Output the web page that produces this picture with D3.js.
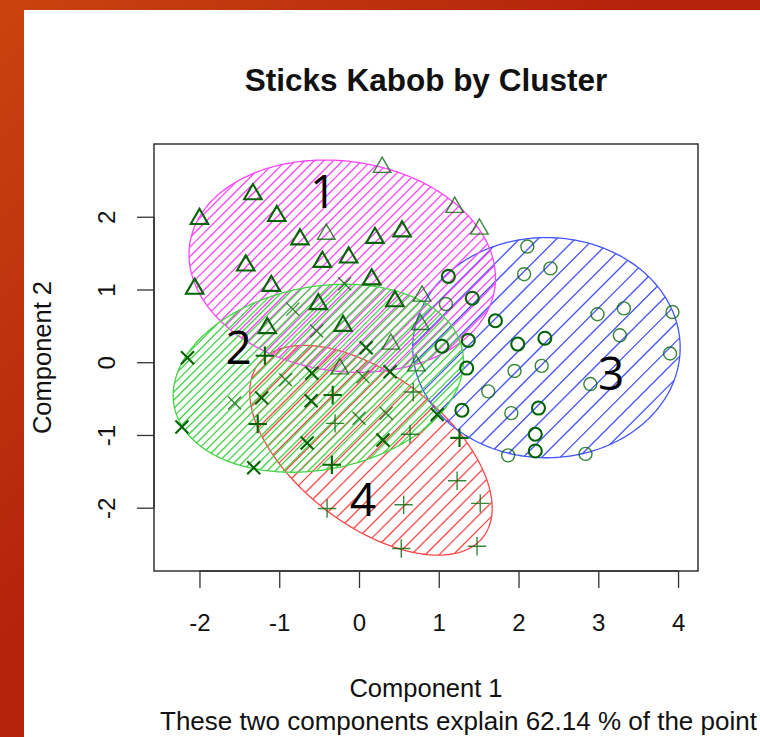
<!DOCTYPE html>
<html><head><meta charset="utf-8">
<script src="https://cdn.jsdelivr.net/npm/d3@7/dist/d3.min.js"></script>
<style>html,body{margin:0;padding:0;background:#fff;} svg{display:block;}</style>
</head><body>
<svg id="chart" width="760" height="737"></svg>
<script>
// ---------------- data ----------------
const title = "Sticks Kabob by Cluster";
const xLabel = "Component 1";
const yLabel = "Component 2";
const subTitle = "These two components explain 62.14 % of the point";
const xTicks = [-2, -1, 0, 1, 2, 3, 4];
const yTicks = [-2, -1, 0, 1, 2];
const clusterNames = ["1", "2", "3", "4"];
const xDomain = [-2.57, 4.25];
const yDomain = [-2.87, 3.0];

// points: [component 1, component 2, number of coinciding observations]
const cluster1 = [ // triangles
  [0.29, 2.68, 1], [-1.33, 2.31, 2], [-2.00, 1.97, 2], [-1.03, 2.01, 2], [-0.74, 1.69, 2],
  [-0.41, 1.76, 1], [-0.46, 1.38, 2], [-0.13, 1.44, 2], [0.20, 1.71, 2], [0.54, 1.80, 2],
  [1.20, 2.13, 1], [1.51, 1.83, 1], [-1.42, 1.33, 2], [-2.06, 1.01, 2], [-1.10, 1.05, 2],
  [0.16, 1.14, 2], [-0.51, 0.80, 2], [-0.20, 0.50, 2], [-1.15, 0.47, 2], [0.45, 0.84, 2],
  [0.79, 0.91, 1], [0.40, 0.25, 1], [0.77, 0.52, 1], [-0.24, -0.09, 1], [0.72, -0.05, 1]
];
const cluster2 = [ // crosses (x)
  [-0.18, 1.08, 1], [-0.83, 0.73, 1], [-0.53, 0.43, 1], [0.09, 0.20, 2], [-2.15, 0.06, 2],
  [-0.59, -0.15, 2], [-0.92, -0.24, 1], [0.39, -0.13, 2], [0.05, -0.20, 1], [-1.22, -0.49, 2],
  [-1.56, -0.56, 1], [-0.60, -0.53, 2], [0.00, -0.77, 1], [0.34, -0.70, 1], [-2.22, -0.89, 2],
  [-0.65, -1.11, 2], [0.30, -1.07, 2], [-1.32, -1.45, 2], [0.98, -0.72, 2]
];
const cluster3 = [ // circles
  [2.11, 1.59, 1], [2.07, 1.21, 1], [2.40, 1.29, 1], [1.12, 1.18, 2], [1.09, 0.80, 1],
  [1.42, 0.88, 2], [1.71, 0.57, 2], [2.99, 0.66, 1], [3.32, 0.74, 1], [3.93, 0.69, 1],
  [3.27, 0.37, 1], [3.90, 0.12, 1], [1.99, 0.25, 2], [2.33, 0.33, 2], [1.04, 0.22, 2],
  [1.37, 0.30, 2], [1.35, -0.08, 2], [1.95, -0.12, 1], [2.29, -0.05, 1], [2.90, -0.30, 1],
  [1.62, -0.40, 1], [1.29, -0.66, 2], [1.91, -0.70, 1], [2.25, -0.63, 2], [2.21, -0.99, 2],
  [2.21, -1.22, 2], [1.87, -1.28, 1], [2.84, -1.26, 1]
];
const cluster4 = [ // plus
  [-1.18, 0.09, 2], [-0.33, -0.45, 2], [-1.27, -0.85, 2], [-0.30, -0.84, 1], [0.64, -0.99, 1],
  [-0.34, -1.41, 2], [0.68, -0.41, 1], [-0.40, -2.01, 1], [0.56, -1.96, 1], [0.53, -2.56, 1],
  [1.26, -1.04, 2], [1.23, -1.63, 1], [1.52, -1.94, 1], [1.48, -2.53, 1]
];
// spanning ellipses: centre and covariance [sxx, sxy, syy] (component units)
const ellipseCentres = [[-0.21, 1.32], [-0.51, -0.22], [2.35, 0.20], [0.15, -1.21]];
const ellipseCov = [[3.69, -0.31, 2.13], [3.31, 0.43, 1.67], [2.81, 0.0, 2.29], [2.31, -1.21, 2.08]];
const labelPositions = [[-0.45, 2.35], [-1.51, 0.20], [3.16, -0.15], [0.05, -1.89]];

// ---------------- drawing ----------------
const svg = d3.select("#chart");
const W = 760, H = 737;
const plot = {left: 154, right: 698, top: 144, bottom: 571};
const x = d3.scaleLinear().domain(xDomain).range([plot.left, plot.right]);
const y = d3.scaleLinear().domain(yDomain).range([plot.bottom, plot.top]);
const FONT = "'Liberation Sans', Arial, Helvetica, sans-serif";

const defs = svg.append("defs");
const g1 = defs.append("linearGradient").attr("id", "bg").attr("gradientUnits", "userSpaceOnUse")
  .attr("x1", 0).attr("y1", 0).attr("x2", 320).attr("y2", 320);
g1.append("stop").attr("offset", 0).attr("stop-color", "#c9440f");
g1.append("stop").attr("offset", 1).attr("stop-color", "#b4230c");

svg.append("rect").attr("width", W).attr("height", H).attr("fill", "url(#bg)");
svg.append("rect").attr("x", 24).attr("y", 10).attr("width", W - 24).attr("height", H - 10).attr("fill", "#fff");

// ellipses with hatching (drawn in R order: red, blue, magenta, green)
const ellColors = ["#ff44ff", "#44d444", "#4455ff", "#ff4848"];
const hatchStep = [9.5, 8.2, 18.5, 14];
const drawOrder = [3, 2, 0, 1];

function ellipsePts(c, cov, n) {
  const l11 = Math.sqrt(cov[0]), l21 = cov[1] / l11, l22 = Math.sqrt(cov[2] - l21 * l21);
  return d3.range(n).map(i => {
    const t = 2 * Math.PI * i / n, u = Math.cos(t), v = Math.sin(t);
    return [x(c[0] + l11 * u), y(c[1] + l21 * u + l22 * v)];
  });
}
// intersection of the hatch line x + y = c with a convex polygon -> segment
function hatchSegments(pts, step) {
  const s = pts.map(p => p[0] + p[1]);
  const c0 = Math.ceil(d3.min(s) / step) * step, c1 = d3.max(s);
  const segs = [];
  for (let c = c0; c <= c1; c += step) {
    const hits = [];
    for (let i = 0; i < pts.length; i++) {
      const a = pts[i], b = pts[(i + 1) % pts.length];
      const sa = a[0] + a[1] - c, sb = b[0] + b[1] - c;
      if ((sa <= 0 && sb > 0) || (sa > 0 && sb <= 0)) {
        const t = sa / (sa - sb);
        hits.push([a[0] + t * (b[0] - a[0]), a[1] + t * (b[1] - a[1])]);
      }
    }
    if (hits.length >= 2) segs.push([hits[0], hits[1]]);
  }
  return segs;
}
const lineGen = d3.line().curve(d3.curveLinearClosed);
const ellG = svg.append("g");
drawOrder.forEach(k => {
  const pts = ellipsePts(ellipseCentres[k], ellipseCov[k], 360);
  const segs = hatchSegments(pts, hatchStep[k]);
  ellG.append("g")
    .selectAll("line").data(segs).join("line")
    .attr("x1", s => s[0][0]).attr("y1", s => s[0][1])
    .attr("x2", s => s[1][0]).attr("y2", s => s[1][1])
    .attr("stroke", ellColors[k]).attr("stroke-width", 1.3);
  ellG.append("path").attr("d", lineGen(pts))
    .attr("fill", "none").attr("stroke", ellColors[k]).attr("stroke-width", 1.3);
});

// symbols (R pch sizes)
const R = 6.5;
const TRC0 = Math.sqrt(4 * Math.PI / (3 * Math.sqrt(3)));
const sym = {
  tri: `M0,${-TRC0 * R}L${TRC0 * Math.sqrt(3) / 2 * R},${TRC0 / 2 * R}L${-TRC0 * Math.sqrt(3) / 2 * R},${TRC0 / 2 * R}Z`,
  cross: `M${-R},${-R}L${R},${R}M${-R},${R}L${R},${-R}`,
  circle: `M${R},0A${R},${R} 0 1 1 ${-R},0A${R},${R} 0 1 1 ${R},0Z`,
  plus: `M${-R * Math.SQRT2},0L${R * Math.SQRT2},0M0,${-R * Math.SQRT2}L0,${R * Math.SQRT2}`
};
const groups = [[cluster1, sym.tri], [cluster2, sym.cross], [cluster3, sym.circle], [cluster4, sym.plus]];
const ptG = svg.append("g");
groups.forEach(([data, d]) => {
  ptG.append("g").selectAll("path").data(data).join("path")
    .attr("d", d)
    .attr("transform", p => `translate(${x(p[0])},${y(p[1])})`)
    .attr("fill", "none").attr("stroke", "#006400")
    .attr("stroke-opacity", p => p[2] > 1 ? 1 : 0.78)
    .attr("stroke-width", p => p[2] > 1 ? 2.1 : 1.4);
});

// box
svg.append("rect").attr("x", plot.left).attr("y", plot.top)
  .attr("width", plot.right - plot.left).attr("height", plot.bottom - plot.top)
  .attr("fill", "none").attr("stroke", "#333").attr("stroke-width", 1.5);

// axes
const fmt = d => String(d);
const xAxis = d3.axisBottom(x).tickValues(xTicks).tickSize(17).tickFormat(fmt);
const gx = svg.append("g").attr("transform", `translate(0,${plot.bottom})`).call(xAxis);
gx.select(".domain").attr("d", `M${x(xTicks[0])},0H${x(xTicks[xTicks.length - 1])}`).attr("stroke", "#333").attr("stroke-width", 1.5);
gx.selectAll(".tick line").attr("stroke", "#333").attr("stroke-width", 1.3);
gx.selectAll(".tick text").attr("font-family", FONT).attr("font-size", 24).attr("fill", "#111")
  .attr("dy", 0).attr("y", 60);

const yAxis = d3.axisLeft(y).tickValues(yTicks).tickSize(17).tickFormat(fmt);
const gy = svg.append("g").attr("transform", `translate(${plot.left},0)`).call(yAxis);
gy.select(".domain").attr("d", `M0,${y(yTicks[0])}V${y(yTicks[yTicks.length - 1])}`).attr("stroke", "#333").attr("stroke-width", 1.5);
gy.selectAll(".tick line").attr("stroke", "#333").attr("stroke-width", 1.3);
gy.selectAll(".tick text").attr("font-family", FONT).attr("font-size", 24).attr("fill", "#111")
  .attr("text-anchor", "middle").attr("x", null).attr("dy", 0)
  .attr("transform", "translate(-39,0) rotate(-90)");

// titles
const cx = (plot.left + plot.right) / 2;
svg.append("text").attr("x", cx).attr("y", 91).attr("text-anchor", "middle")
  .attr("font-family", FONT).attr("font-weight", "bold").attr("font-size", 31.5).attr("fill", "#111").text(title);
svg.append("text").attr("x", cx).attr("y", 697).attr("text-anchor", "middle")
  .attr("font-family", FONT).attr("font-size", 25.5).attr("fill", "#111").text(xLabel);
svg.append("text").attr("x", 160).attr("y", 730).attr("text-anchor", "start")
  .attr("font-family", FONT).attr("font-size", 26).attr("fill", "#111").text(subTitle);
svg.append("text").attr("transform", `translate(51,${(plot.top + plot.bottom) / 2}) rotate(-90)`)
  .attr("text-anchor", "middle").attr("font-family", FONT).attr("font-size", 25.5).attr("fill", "#111").text(yLabel);

// cluster number annotations
svg.append("g").selectAll("text").data(labelPositions).join("text")
  .attr("x", p => x(p[0])).attr("y", p => y(p[1])).attr("dy", "0.36em")
  .attr("text-anchor", "middle").attr("font-family", "'Open Sans', 'Noto Sans', sans-serif")
  .attr("font-size", 46).attr("fill", "#000")
  .text((p, i) => clusterNames[i]);
</script>
</body></html>
